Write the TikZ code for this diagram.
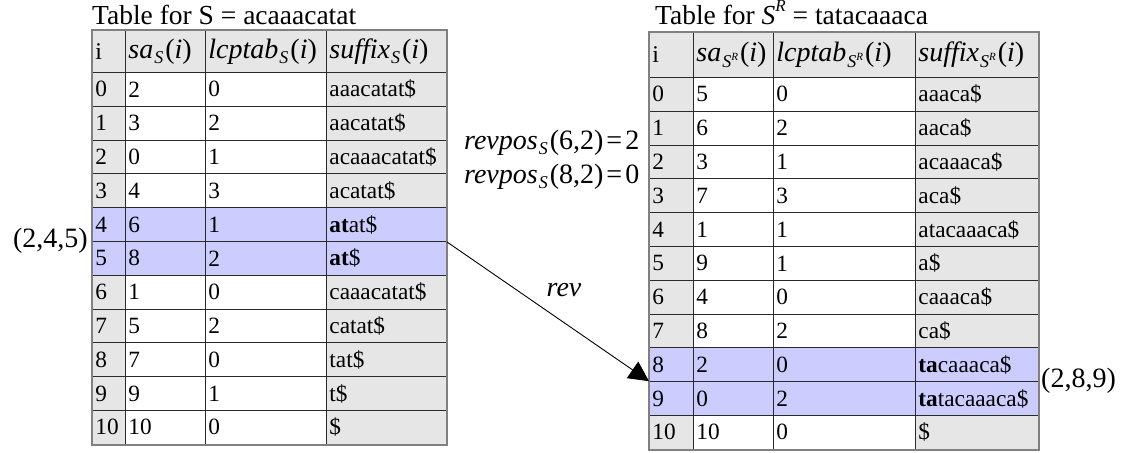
\documentclass[tikz,border=0pt]{standalone}
\usepackage{fontspec}
\setmainfont{Liberation Serif}
\usetikzlibrary{arrows.meta}
\definecolor{gcell}{HTML}{E6E6E6}
\definecolor{hcell}{HTML}{CCCCFF}
\definecolor{bord}{HTML}{2A2A2A}
\definecolor{obord}{HTML}{808080}
\newcommand\csz{\fontsize{23.3}{26}\selectfont}
\newcommand\hsz{\fontsize{28}{30}\selectfont}
\newcommand\ssz{\fontsize{18}{18}\selectfont}
\newcommand\tsz{\fontsize{11}{11}\selectfont}
\newcommand\subS{\kern1pt\raisebox{-0.4ex}{\ssz\textit{S}}\kern2pt}
\newcommand\subSR{\kern1pt\raisebox{-0.45ex}{\ssz\textit{S}\raisebox{0.9ex}{\tsz\textit{R}}}\kern2pt}
% \mkcell{name}{x}{y}{w}{h}{fill}{text}
\newcommand\mkcell[7]{%
  \node[cellbox, fill=#6, minimum height=#5pt] (#1) at (#2,#3)
    {\makebox[#4pt][l]{\hspace{3pt}#7}};}
\begin{document}
\begin{tikzpicture}[x=1pt,y=-1pt,
  cellbox/.style={draw=bord, line width=0.9pt, anchor=north west, inner sep=0pt, font=\csz},
  ttl/.style={font=\fontsize{27.5}{30}\selectfont, anchor=base west, inner sep=0pt},
  side/.style={font=\fontsize{28}{30}\selectfont, inner sep=0pt},
  outer/.style={draw=obord, line width=1.6pt},
  conn/.style={draw=black, line width=0.9pt, -{Triangle[length=20pt,width=20pt]}}]
\useasboundingbox (0,0) rectangle (1123,452);

% ---------------- left table ----------------
\node[ttl] (ltitle) at (92,25) {Table for S = acaaacatat};
\mkcell{L-h-0}{92}{30}{33}{42}{gcell}{\fontsize{24}{26}\selectfont i}
\mkcell{L-h-1}{125}{30}{80}{42}{gcell}{\hsz\textit{sa}\subS(\textit{i})}
\mkcell{L-h-2}{205}{30}{121}{42}{gcell}{\hsz\textit{lcptab}\subS(\textit{i})}
\mkcell{L-h-3}{326}{30}{120}{42}{gcell}{\hsz\textit{suffix}\subS(\textit{i})}
\foreach \i/\sa/\lcp/\suf/\cs/\cm in {
  0/2/0/aaacatat\$/gcell/white,
  1/3/2/aacatat\$/gcell/white,
  2/0/1/acaaacatat\$/gcell/white,
  3/4/3/acatat\$/gcell/white,
  4/6/1/{\textbf{at}at\$}/hcell/hcell,
  5/8/2/{\textbf{at}\$}/hcell/hcell,
  6/1/0/caaacatat\$/gcell/white,
  7/5/2/catat\$/gcell/white,
  8/7/0/tat\$/gcell/white,
  9/9/1/t\$/gcell/white,
  10/10/0/\$/gcell/white}{
  \pgfmathsetmacro\yy{72+33.8*\i}
  \mkcell{L-\i-0}{92}{\yy}{33}{33.8}{\cs}{\i}
  \mkcell{L-\i-1}{125}{\yy}{80}{33.8}{\cm}{\sa}
  \mkcell{L-\i-2}{205}{\yy}{121}{33.8}{\cm}{\lcp}
  \mkcell{L-\i-3}{326}{\yy}{120}{33.8}{\cs}{\suf}
}
\draw[outer] (L-h-0.north west) rectangle (L-10-3.south east);

% ---------------- right table ----------------
\node[ttl] (rtitle) at (655,25) {Table for \textit{S}\raisebox{1.1ex}{\fontsize{17}{17}\selectfont\textit{R}} = tatacaaaca};
\mkcell{R-h-0}{649}{32}{44}{45}{gcell}{\fontsize{24}{26}\selectfont i}
\mkcell{R-h-1}{693}{32}{80}{45}{gcell}{\hsz\textit{sa}\subSR(\textit{i})}
\mkcell{R-h-2}{773}{32}{142}{45}{gcell}{\hsz\textit{lcptab}\subSR(\textit{i})}
\mkcell{R-h-3}{915}{32}{123}{45}{gcell}{\hsz\textit{suffix}\subSR(\textit{i})}
\foreach \i/\sa/\lcp/\suf/\cs/\cm in {
  0/5/0/aaaca\$/gcell/white,
  1/6/2/aaca\$/gcell/white,
  2/3/1/acaaaca\$/gcell/white,
  3/7/3/aca\$/gcell/white,
  4/1/1/atacaaaca\$/gcell/white,
  5/9/1/a\$/gcell/white,
  6/4/0/caaaca\$/gcell/white,
  7/8/2/ca\$/gcell/white,
  8/2/0/{\textbf{ta}caaaca\$}/hcell/hcell,
  9/0/2/{\textbf{ta}tacaaaca\$}/hcell/hcell,
  10/10/0/\$/gcell/white}{
  \pgfmathsetmacro\yy{77+33.8*\i}
  \mkcell{R-\i-0}{649}{\yy}{44}{33.8}{\cs}{\i}
  \mkcell{R-\i-1}{693}{\yy}{80}{33.8}{\cm}{\sa}
  \mkcell{R-\i-2}{773}{\yy}{142}{33.8}{\cm}{\lcp}
  \mkcell{R-\i-3}{915}{\yy}{123}{33.8}{\cs}{\suf}
}
\draw[outer] (R-h-0.north west) rectangle (R-10-3.south east);

% ---------------- labels ----------------
\node[side, anchor=east] (lrange) at (88,241) {(2,4,5)};
\node[side, anchor=west] (rrange) at (1041,381) {(2,8,9)};
\node[side, anchor=west] (rp1) at (464,143) {\textit{revpos}\subS(6,2)\kern3pt=\kern3pt2};
\node[side, anchor=west] (rp2) at (464,177) {\textit{revpos}\subS(8,2)\kern3pt=\kern3pt0};

% ---------------- connector ----------------
\draw[conn] (L-4-3.south east) -- (R-9-0.north west);
\node[side, font=\fontsize{28}{30}\selectfont\itshape] (revlbl) at (564,290) {rev};
\end{tikzpicture}
\end{document}
